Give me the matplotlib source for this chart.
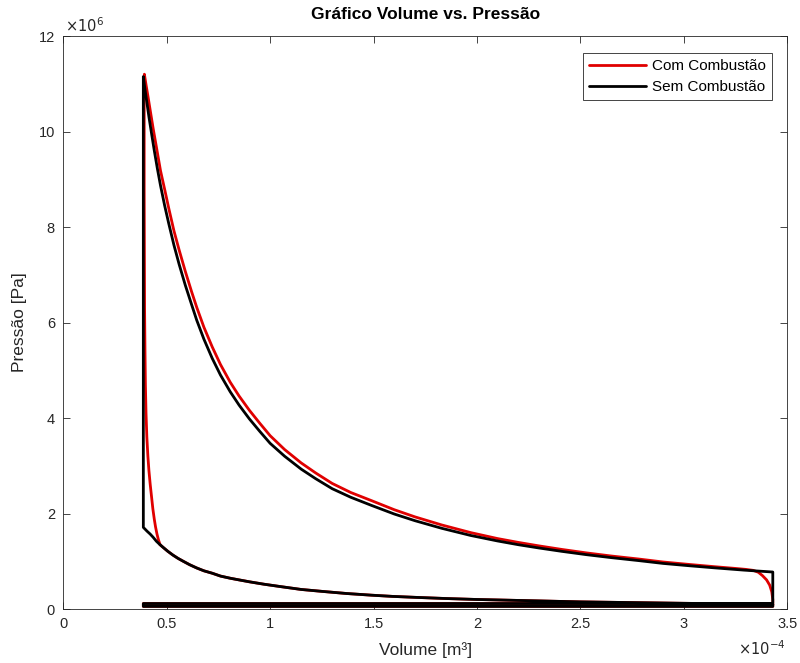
import matplotlib
matplotlib.use("Agg")
import matplotlib.pyplot as plt
import numpy as np

# ---- data (V in 1e-4 m^3, P in 1e6 Pa) ----
V_min = 0.387
V_max = 3.43
P_exhaust = 0.115
P_intake = 0.055
P_comp_start = 0.10

# compression (shared), from V_max down to V_min
V_comp = [3.43, 3.2, 3.0, 2.75, 2.5, 2.25, 2.0, 1.85, 1.7, 1.59, 1.49, 1.37, 1.25,
          1.15, 1.05, 0.97, 0.9, 0.85, 0.807, 0.76, 0.72, 0.68, 0.645, 0.61, 0.58,
          0.555, 0.53, 0.505, 0.483, 0.467, 0.45, 0.435, 0.42, 0.405, 0.387]
P_comp = [0.10, 0.11, 0.12, 0.135, 0.15, 0.175, 0.20, 0.22, 0.245, 0.265, 0.29, 0.325, 0.37,
          0.41, 0.47, 0.52, 0.57, 0.61, 0.645, 0.69, 0.75, 0.80, 0.86, 0.93, 1.0,
          1.06, 1.13, 1.21, 1.29, 1.35, 1.42, 1.50, 1.57, 1.63, 1.71]

# black: constant-volume combustion then expansion
V_exp_sem = [0.387, 0.387, 0.395, 0.405, 0.415, 0.427, 0.44, 0.455, 0.47, 0.49, 0.51,
             0.535, 0.56, 0.59, 0.62, 0.645, 0.68, 0.72, 0.76, 0.807, 0.85, 0.9, 0.95,
             1.0, 1.07, 1.15, 1.22, 1.3, 1.39, 1.49, 1.6, 1.7, 1.83, 1.97, 2.1, 2.2,
             2.3, 2.41, 2.53, 2.65, 2.78, 2.9, 3.03, 3.15, 3.29, 3.43, 3.43]
P_exp_sem = [1.71, 11.15, 10.88, 10.58, 10.28, 9.95, 9.6, 9.22, 8.87, 8.45, 8.07,
             7.62, 7.22, 6.78, 6.38, 6.05, 5.65, 5.25, 4.9, 4.55, 4.27, 3.98, 3.72,
             3.47, 3.20, 2.93, 2.73, 2.52, 2.34, 2.17, 1.99, 1.85, 1.69, 1.54, 1.425, 1.347,
             1.278, 1.208, 1.138, 1.076, 1.015, 0.955, 0.905, 0.862, 0.815, 0.775, 0.115]

# red: combustion starting during compression, then expansion and blowdown
V_comb_com = [0.467, 0.46, 0.453, 0.446, 0.44, 0.433, 0.426, 0.42, 0.414, 0.409,
              0.404, 0.40, 0.397, 0.395, 0.393, 0.392, 0.391, 0.391, 0.391, 0.392]
P_comb_com = [1.36, 1.45, 1.57, 1.72, 1.88, 2.1, 2.38, 2.62, 2.9, 3.2,
              3.6, 4.1, 4.7, 5.4, 6.3, 7.5, 8.8, 10.0, 10.8, 11.2]
V_exp_com = [0.40, 0.41, 0.42, 0.435, 0.45, 0.47, 0.49, 0.51, 0.535, 0.56, 0.59, 0.62,
             0.645, 0.68, 0.72, 0.76, 0.807, 0.85, 0.9, 0.95, 1.0, 1.07, 1.15, 1.22,
             1.3, 1.39, 1.49, 1.6, 1.7, 1.83, 1.97, 2.1, 2.2, 2.3, 2.41, 2.53, 2.65,
             2.78, 2.9, 3.03, 3.15, 3.25, 3.3, 3.335, 3.36, 3.38, 3.40, 3.415, 3.425,
             3.43, 3.43]
P_exp_com = [10.98, 10.72, 10.45, 10.05, 9.68, 9.18, 8.79, 8.39, 7.92, 7.52, 7.07, 6.65,
             6.32, 5.9, 5.49, 5.12, 4.75, 4.46, 4.16, 3.89, 3.63, 3.34, 3.06, 2.85,
             2.63, 2.44, 2.27, 2.08, 1.93, 1.76, 1.6, 1.475, 1.395, 1.322, 1.248, 1.175, 1.11,
             1.048, 0.985, 0.932, 0.886, 0.85, 0.83, 0.81, 0.77, 0.70, 0.61, 0.50, 0.36,
             0.2, 0.115]

labels = ["Com Combustão", "Sem Combustão"]
xticks = [0, 0.5, 1, 1.5, 2, 2.5, 3, 3.5]
yticks = [0, 2, 4, 6, 8, 10, 12]

# ---- assemble cycles ----
loop_V = [V_max, V_min, V_min, V_max, V_max]
loop_P = [P_exhaust, P_exhaust, P_intake, P_intake, P_comp_start]

i_join = V_comp.index(0.467)
V_sem = np.array(V_comp + V_exp_sem + loop_V) * 1e-4
P_sem = np.array(P_comp + P_exp_sem + loop_P) * 1e6
V_com = np.array(V_comp[:i_join + 1] + V_comb_com + V_exp_com + loop_V) * 1e-4
P_com = np.array(P_comp[:i_join + 1] + P_comb_com + P_exp_com + loop_P) * 1e6

plt.rcParams['font.family'] = ['Liberation Sans', 'DejaVu Sans']
fig = plt.figure(figsize=(8.0, 6.63), dpi=100)
ax = fig.add_axes([0.0791, 0.0814, 0.905, 0.8643])

dark = '#262626'
ax.plot(V_com, P_com, color='#e00000', lw=2.0, label=labels[0],
        solid_capstyle='round', solid_joinstyle='round')
ax.plot(V_sem, P_sem, color='black', lw=2.0, label=labels[1],
        solid_capstyle='round', solid_joinstyle='round')

ax.set_xlim(0, 3.5e-4)
ax.set_ylim(0, 12e6)
ax.set_xticks([t * 1e-4 for t in xticks])
ax.set_xticklabels([f"{t:g}" for t in xticks])
ax.set_yticks([t * 1e6 for t in yticks])
ax.set_yticklabels([f"{t:g}" for t in yticks])
ax.tick_params(direction='in', length=5, width=0.6, colors=dark, labelsize=10.5,
               top=True, right=True, pad=6)
for s in ax.spines.values():
    s.set_color(dark)
    s.set_linewidth(0.6)

fig.text(0.081, 0.962, r"$\times10^{6}$", fontsize=10.5, color=dark,
         ha='left', va='center')
fig.text(0.982, 0.021, r"$\times10^{-4}$", fontsize=10.5, color=dark,
         ha='right', va='center')

ax.set_title("Gráfico Volume vs. Pressão", fontsize=12.5, fontweight='bold',
             color='black', pad=12)
ax.set_xlabel("Volume [m³]", fontsize=12.5, color=dark, labelpad=8)
ax.set_ylabel("Pressão [Pa]", fontsize=12.5, color=dark, labelpad=8)

leg = ax.legend(loc='upper right', bbox_to_anchor=(0.979, 0.970), borderaxespad=0,
                fontsize=11, handlelength=3.7, handletextpad=0.4, fancybox=False,
                framealpha=1, edgecolor=dark, borderpad=0.4, labelspacing=0.45)
leg.get_frame().set_linewidth(0.6)

fig.savefig("out.png", dpi=100)
